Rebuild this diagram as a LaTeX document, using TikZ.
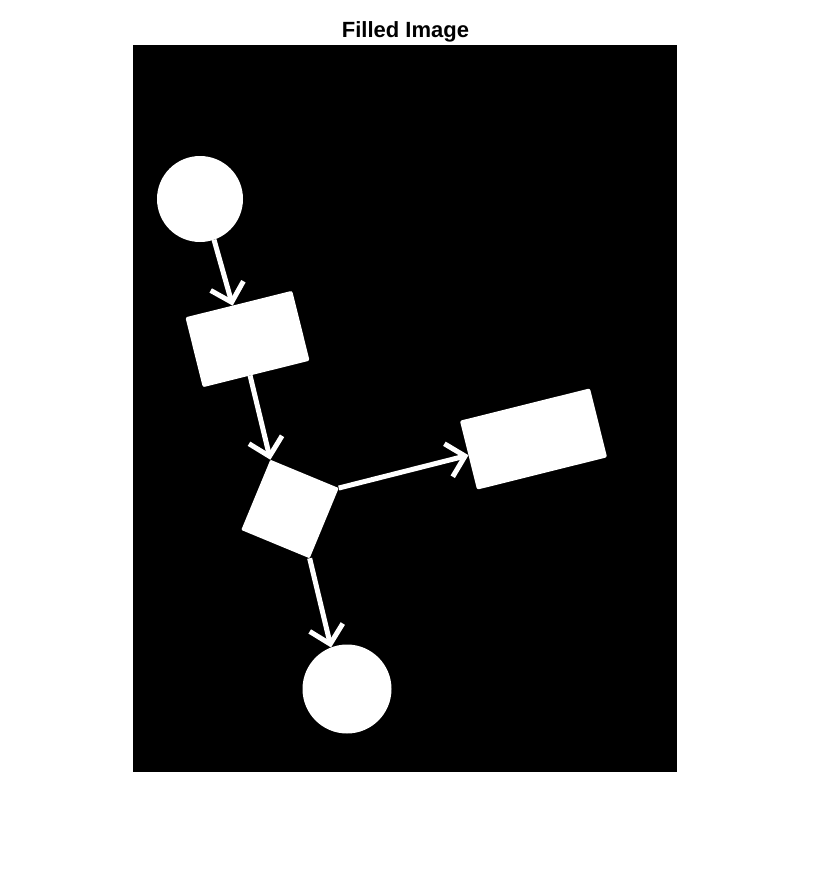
\documentclass[tikz,border=0pt]{standalone}
\usepackage{fontspec}
\setmainfont{Liberation Sans}
\usetikzlibrary{arrows.meta}
\begin{document}
\begin{tikzpicture}[x=1pt,y=-1pt,
  shapefill/.style={fill=white,draw=none,inner sep=0pt,outer sep=0pt},
  blob/.style={shapefill,circle},
  box/.style={shapefill,rectangle,rounded corners=2pt},
  arr/.style={draw=white,line width=5pt,
    -{Straight Barb[length=17pt,width=34pt,line width=5pt]}},
  titletext/.style={font=\fontsize{22}{26}\selectfont\bfseries,inner sep=0pt,anchor=base}]
\useasboundingbox (0,0) rectangle (812,873);
\fill[white] (0,0) rectangle (812,873);
\fill[black] (133,45) rectangle (677,772);
\node[titletext] (title) at (405.5,37) {Filled Image};
% shapes
\node[blob,minimum size=86pt] (c1) at (200,199) {};
\node[box,minimum width=110pt,minimum height=72pt,rotate=14] (r1) at (247.5,339) {};
\node[box,minimum width=74pt,minimum height=76pt,rotate=-22.5,rounded corners=1pt] (d1) at (290,509) {};
\node[box,minimum width=134pt,minimum height=71pt,rotate=14] (r2) at (533.5,439) {};
\node[blob,minimum size=89pt] (c2) at (347,689) {};
% connectors
\draw[arr] (c1.-71) -- (r1.100);
\draw[arr] (r1.260) -- (d1.north west);
\draw[arr] (d1.north east) -- (r2.west);
\draw[arr] (d1.south east) -- (c2.111);
\end{tikzpicture}
\end{document}
